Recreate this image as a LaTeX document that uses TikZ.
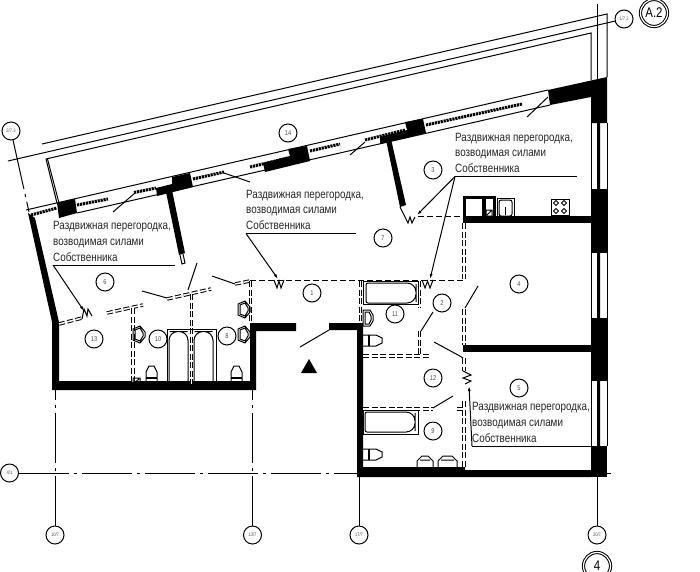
\documentclass[tikz,border=0pt]{standalone}
\usepackage{fontspec}
\newfontfamily\cadfont[FakeStretch=0.82]{Liberation Sans}
\usetikzlibrary{arrows.meta}
\tikzstyle{thinline}=[line width=1pt,black]
\tikzstyle{solidwall}=[fill=black,draw=none]
\tikzstyle{windowstrip}=[line width=3pt,black,dash pattern=on 2.2pt off 0.8pt]
\tikzstyle{partition}=[line width=1pt,black,dash pattern=on 6pt off 2.5pt,double,double distance=1.5pt]
\tikzstyle{axisline}=[line width=1pt,black,dash pattern=on 50pt off 5pt on 3pt off 5pt]
\tikzstyle{roomnum}=[circle,draw,line width=1pt,minimum size=18pt,inner sep=0pt,font=\cadfont\fontsize{7}{7}\selectfont,text=black!70]
\tikzstyle{axisnum}=[circle,draw,line width=1pt,minimum size=18pt,inner sep=0pt,font=\cadfont\fontsize{5}{5}\selectfont,text=black!70]
\tikzstyle{sheetnum}=[circle,draw,double,line width=1pt,double distance=1.2pt,minimum size=27pt,inner sep=0pt,font=\cadfont\fontsize{14}{14}\selectfont]
\tikzstyle{lables}=[align=left,anchor=south west,inner xsep=0pt,inner ysep=3.5pt,text=black!85,font=\cadfont\fontsize{12}{15.7}\selectfont]
\tikzstyle{leader}=[line width=1pt,-{Latex[length=5pt,width=3pt]}]
\newcommand{\partitiontext}{Раздвижная перегородка,\\возводимая силами\\Собственника}
\begin{document}
\begin{tikzpicture}[x=1pt,y=-1pt]
  \useasboundingbox (0,0) rectangle (700,571);
  % axes
  \node[axisnum] (axiswest) at (11,131) {2/7.3};
  \node[axisnum] (axisnorth) at (624,19) {1/7.2};
  \node[axisnum] (axisfour) at (9.5,473) {4/1};
  \node[axisnum] (axisten) at (55,535) {10/7};
  \node[axisnum] (axisthirteen) at (252.5,535) {13/7};
  \node[axisnum] (axisseventeen) at (359,535) {17/7};
  \node[axisnum] (axistwenty) at (597,535) {20/7};
  \node[sheetnum] (sheettop) at (654,13) {A.2};
  \node[sheetnum] (sheetbottom) at (597,566) {4};
  \coordinate (westend) at (29,212);
  \coordinate (northend) at (8,161);
  \coordinate (fourend) at (611,473);
  \coordinate (tenend) at (55,387);
  \coordinate (thirteenend) at (252.5,387);
  \coordinate (seventeenend) at (359,476);
  \coordinate (twentyend) at (597,477);
  \coordinate (twentytop) at (597.5,4);
  \draw[axisline] (axiswest) -- (westend);
  \draw[thinline] (axisnorth) -- (northend);
  \draw[axisline] (axisfour) -- (fourend);
  \draw[axisline] (axisten) -- (tenend);
  \draw[axisline] (axisthirteen) -- (thirteenend);
  \draw[axisline] (axisseventeen) -- (seventeenend);
  \draw[thinline] (axistwenty) -- (twentyend);
  \draw[thinline] (twentytop) -- (597.5,79);
  % balcony
  \draw[thinline] (42,144) -- (607,14) -- (607,77);
  \draw[thinline] (46,159) -- (591,33) -- (591,80);
  \draw[thinline] (46,159) -- (57,203);
  \draw[thinline] (47.5,159) -- (59,203);
  % facade
  \draw[thinline] (26,210) -- (548,90);
  \draw[thinline] (77,213) -- (550,105);
  \draw[windowstrip] (31,215) -- (57,208);
  \draw[windowstrip] (77,205) -- (108,199);
  \draw[windowstrip] (134,192.5) -- (156,188);
  \draw[windowstrip] (193,179) -- (224,172);
  \draw[windowstrip] (250,167) -- (288,158);
  \draw[windowstrip] (310,151) -- (340,144);
  \draw[windowstrip] (365,140) -- (405,130);
  \draw[windowstrip] (426,125) -- (522,104);
  \draw[solidwall] (57,203) -- (75,199) -- (77,213) -- (59,218) -- cycle;
  \draw[solidwall] (172,177) -- (190,173) -- (193,187) -- (157,196) -- (156,188) -- (172,184) -- cycle;
  \draw[solidwall] (288,149) -- (307,146) -- (310,161) -- (265,172) -- (263,163) -- (290,156) -- cycle;
  \draw[solidwall] (405,122) -- (423,119) -- (426,133) -- (380,144) -- (380,137) -- (407,130) -- cycle;
  \draw[solidwall] (548,90) -- (607,77) -- (607,123) -- (591,123) -- (591,97) -- (550,105) -- cycle;
  % right wall
  \draw[solidwall] (591,189) rectangle (607,253);
  \draw[solidwall] (591,318) rectangle (607,381);
  \draw[solidwall] (591,446) rectangle (607,477);
  \draw[thinline] (591,123) -- (591,446);
  \draw[thinline] (607,123) -- (607,446);
  \draw[solidwall] (597,123) rectangle (600,189) (597,253) rectangle (600,318) (597,381) rectangle (600,446);
  % outer walls
  \draw[solidwall] (28,213) -- (35,218) -- (59,322) -- (59,381) -- (250,381) -- (250,323) -- (296,323) -- (296,331) -- (256,331) -- (256,390) -- (52,390) -- (52,322) -- cycle;
  \draw[solidwall] (329,323) -- (363,323) -- (363,467) -- (465,467) -- (465,470) -- (591,470) -- (591,477) -- (357,477) -- (357,330) -- (329,330) -- cycle;
  \draw[solidwall] (166,192) -- (172,190) -- (185,253) -- (179,255) -- cycle;
  \draw[thinline] (180,255) -- (182,264) -- (185,263) -- (183,254);
  \draw[solidwall] (386,140) -- (391,139) -- (406,205) -- (400,207) -- cycle;
  % kitchen and cross walls
  \draw[solidwall] (463,216) rectangle (591,223);
  \draw[solidwall] (463,345) rectangle (591,352);
  \draw[solidwall] (463,196) rectangle (496,199);
  \draw[solidwall] (463,196) rectangle (466,216);
  \draw[solidwall] (482,196) rectangle (486,216);
  \draw[solidwall] (493,196) rectangle (496,216);
  \draw[thinline] (486,210) rectangle (492,216) (487,215) -- (491,211);
  \draw[thinline] (497,198) rectangle (514,216);
  \draw[thinline,rounded corners=2pt] (499,200) rectangle (512,216);
  \draw[line width=1.4pt] (505.5,207) -- (505.5,215);
  \draw[thinline] (551,199) rectangle (569,215);
  \foreach \cx in {556,564}
    \foreach \cy in {203,211}
      \draw[thinline] (\cx-2.5,\cy) -- (\cx,\cy-2.5) -- (\cx+2.5,\cy) -- (\cx,\cy+2.5) -- cycle;
  % partitions
  \draw[thinline,dash pattern=on 6pt off 3pt] (418,216.5) -- (463,216.5);
  \draw[thinline,dash pattern=on 6pt off 3pt] (250,280.5) -- (463,280.5);
  \draw[partition] (464,223) -- (464,279);
  \draw[partition] (464,309) -- (464,345);
  \draw[partition] (464,358) -- (464,371);
  \draw[partition] (464,401) -- (464,469);
  \draw[partition] (360.5,281) -- (360.5,323);
  \draw[partition] (419.5,281) -- (419.5,308);
  \draw[partition] (419.5,331) -- (419.5,356);
  \draw[partition] (363,356) -- (430,356);
  \draw[partition] (363,409) -- (433,409);
  \draw[partition] (457,409) -- (464,409);
  \draw[partition] (59,324) -- (82,318);
  \draw[partition] (107,313) -- (143,305);
  \draw[partition] (133,308) -- (133,384);
  \draw[partition] (167,299) -- (211,289);
  \draw[partition] (191.5,294) -- (191.5,384);
  \draw[partition] (235,284) -- (250,281);
  \draw[partition] (250.5,281) -- (250.5,323);
  % sliding parts
  \draw[thinline] (400,207) -- (405,217) -- (408,223) -- (410,217) -- (412,223) -- (415,217);
  \draw[thinline] (274,280) -- (277,288) -- (279,281) -- (281,288) -- (284,280);
  \draw[thinline] (422,280) -- (425,288) -- (427.5,281) -- (430,288) -- (433,280);
  \draw[thinline] (82,319) -- (84,309) -- (87,316) -- (88,309) -- (92,316);
  \draw[thinline] (463,371) -- (471,375) -- (463,378) -- (471,381) -- (465,384);
  % door leaves
  \draw[thinline] (113,212) -- (135,193);
  \draw[thinline] (224,173) -- (250,182);
  \draw[thinline] (350,155) -- (365,142);
  \draw[thinline] (527,117) -- (548,97);
  \draw[thinline] (465,308) -- (478,286);
  \draw[thinline] (434,342) -- (458,355) -- (463,358);
  \draw[thinline] (433,408) -- (453,396);
  \draw[thinline] (421,331) -- (433,312);
  \draw[thinline] (142,291) -- (167,298);
  \draw[thinline] (197,263) -- (188,290);
  \draw[thinline] (212,276) -- (235,284);
  \draw[thinline] (300,347) -- (329,330);
  \draw[solidwall] (301,373) -- (317,373) -- (309,359) -- cycle;
  % baths
  \draw[thinline] (167,329) rectangle (216,384);
  \foreach \bx in {169,194}
    \draw[thinline,rounded corners=9pt] (\bx+9.5,331.5) -- (\bx+19,331.5) -- (\bx+19,360) [rounded corners=2pt] -- (\bx+19,383) -- (\bx,383) [rounded corners=9pt] -- (\bx,331.5) -- cycle;
  \draw[thinline] (363,281) rectangle (418,304);
  \draw[thinline,rounded corners=9pt] (390,283) -- (416,283) -- (416,293) -- (416,303) [rounded corners=2pt] -- (366,303) -- (366,283) -- cycle;
  \draw[thinline] (363,410) rectangle (418,434);
  \draw[thinline,rounded corners=9pt] (390,412) -- (415,412) -- (415,422) -- (415,432) [rounded corners=2pt] -- (365,432) -- (365,412) -- cycle;
  % sinks
  \foreach \sx/\sy in {133/326,238/301,238/326}
    \draw[thinline] (\sx,\sy+3) -- (\sx+7,\sy) -- (\sx+12,\sy+6) -- (\sx+12,\sy+11) -- (\sx+7,\sy+17) -- (\sx,\sy+14) -- cycle
      (\sx+2,\sy+4) -- (\sx+7,\sy+2) -- (\sx+10,\sy+7) -- (\sx+10,\sy+10) -- (\sx+7,\sy+15) -- (\sx+2,\sy+13) -- cycle;
  \draw[thinline] (363,310) -- (370,310) -- (373,315) -- (373,321) -- (370,326) -- (363,326) -- cycle;
  \draw[thinline] (365,312) -- (369,312) -- (371,316) -- (371,320) -- (369,324) -- (365,324) -- cycle;
  \foreach \sx/\swid in {417/16,438/19}
    \draw[thinline] (\sx,467) -- (\sx,461) -- (\sx+5,456) -- (\sx+\swid-5,456) -- (\sx+\swid,461) -- (\sx+\swid,467)
      (\sx+3,460) -- (\sx+\swid-3,460);
  % toilets
  \foreach \tx in {146,231}
    {\draw[thinline] (\tx,384) -- (\tx,372) -- (\tx+3,366) -- (\tx+8,366) -- (\tx+11,372) -- (\tx+11,384);
     \draw[line width=1.5pt] (\tx,378) -- (\tx+11,378);}
  \foreach \ty in {335,449}
    {\draw[thinline] (363,\ty) -- (376,\ty) -- (382,\ty+3) -- (382,\ty+8) -- (376,\ty+11) -- (363,\ty+11);
     \draw[line width=1.2pt] (369,\ty) -- (369,\ty+11);}
  \draw[thinline] (133,378) rectangle (140,384) (134,383) -- (139,379);
  % rooms
  \node[roomnum] (roomone) at (312,293) {1};
  \node[roomnum] (roomtwo) at (442,303) {2};
  \node[roomnum] (roomthree) at (433,170) {3};
  \node[roomnum] (roomfour) at (519,284) {4};
  \node[roomnum] (roomfive) at (519,388) {5};
  \node[roomnum] (roomsix) at (105,282) {6};
  \node[roomnum] (roomseven) at (383,238) {7};
  \node[roomnum] (roomeight) at (227,336) {8};
  \node[roomnum] (roomnine) at (433,431) {9};
  \node[roomnum] (roomten) at (158,339) {10};
  \node[roomnum] (roomeleven) at (395,314) {11};
  \node[roomnum] (roomtwelve) at (433,378) {12};
  \node[roomnum] (roomthirteen) at (94,339) {13};
  \node[roomnum] (roomfourteen) at (288,133) {14};
  % notes
  \node[lables] (noteleft) at (53,265) {\partitiontext};
  \node[lables] (notemiddle) at (246,233.5) {\partitiontext};
  \node[lables] (noteupper) at (455,176.5) {\partitiontext};
  \node[lables] (notelower) at (472,446) {\partitiontext};
  \coordinate (leftstop) at (175,265);
  \coordinate (middlestop) at (356,233.5);
  \coordinate (upperstop) at (577,176.5);
  \coordinate (lowerstop) at (591,446);
  \coordinate (lefttarget) at (84,311);
  \coordinate (middletarget) at (278,279);
  \coordinate (uppertarget) at (417,215);
  \coordinate (uppertargetb) at (430,279);
  \coordinate (lowertarget) at (469,386);
  \draw[thinline] (noteleft.south west) -- (leftstop);
  \draw[thinline] (notemiddle.south west) -- (middlestop);
  \draw[thinline] (noteupper.south west) -- (upperstop);
  \draw[thinline] (notelower.south west) -- (lowerstop);
  \draw[leader] (noteleft.south west) -- (lefttarget);
  \draw[leader] (notemiddle.south west) -- (middletarget);
  \draw[leader] (noteupper.south west) -- (uppertarget);
  \draw[leader] (noteupper.south west) -- (uppertargetb);
  \draw[leader] (notelower.south west) -- (lowertarget);
\end{tikzpicture}
\end{document}
